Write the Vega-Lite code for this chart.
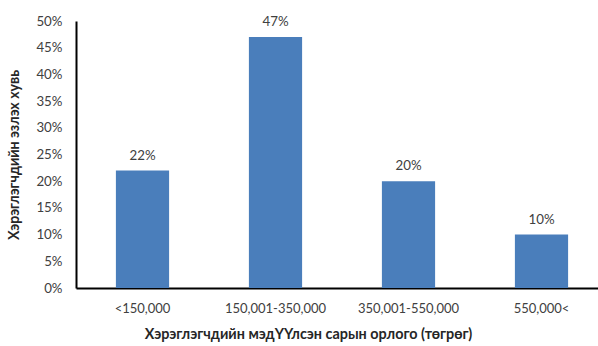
{
  "$schema": "https://vega.github.io/schema/vega-lite/v6.json",
  "width": 532,
  "height": 267,
  "autosize": {"type": "none"},
  "padding": {"left": 76, "top": 21, "right": 0, "bottom": 58},
  "background": "white",
  "config": {"view": {"stroke": null}, "font": "Lato"},
  "data": {
    "values": [
      {"income": "<150,000", "share": 0.22},
      {"income": "150,001-350,000", "share": 0.47},
      {"income": "350,001-550,000", "share": 0.20},
      {"income": "550,000<", "share": 0.10}
    ]
  },
  "encoding": {
    "x": {
      "field": "income",
      "type": "nominal",
      "sort": null,
      "scale": {"paddingInner": 0.6, "paddingOuter": 0.3},
      "axis": {
        "title": "Хэрэглэгчдийн мэдҮҮлсэн сарын орлого (төгрөг)",
        "labelAngle": 0,
        "domainColor": "black",
        "domainWidth": 2,
        "ticks": false,
        "labelPadding": 14,
        "labelFontSize": 13,
        "labelColor": "#404040",
        "titleFontSize": 14.4,
        "titleFontWeight": "bold",
        "titleColor": "#262626",
        "titleX": 232,
        "titleY": 50,
        "titleAlign": "center",
        "titleBaseline": "alphabetic"
      }
    },
    "y": {
      "field": "share",
      "type": "quantitative",
      "scale": {"domain": [0, 0.5]},
      "axis": {
        "title": "Хэрэглэгчдийн эзлэх хувь",
        "format": ".0%",
        "values": [0, 0.05, 0.1, 0.15, 0.2, 0.25, 0.3, 0.35, 0.4, 0.45, 0.5],
        "grid": false,
        "ticks": false,
        "domainColor": "black",
        "domainWidth": 2,
        "labelPadding": 14,
        "labelFontSize": 13.3,
        "labelColor": "#404040",
        "titleFontSize": 14.2,
        "titleFontWeight": "bold",
        "titleColor": "#262626",
        "titleX": -58,
        "titleY": 133.5,
        "titleAngle": -90,
        "titleAlign": "center",
        "titleBaseline": "alphabetic"
      }
    }
  },
  "layer": [
    {"mark": {"type": "bar", "color": "#4a7ebb"}},
    {
      "mark": {"type": "text", "baseline": "alphabetic", "dy": -11, "fontSize": 13.3, "color": "#404040"},
      "encoding": {"text": {"field": "share", "type": "quantitative", "format": ".0%"}}
    }
  ]
}
